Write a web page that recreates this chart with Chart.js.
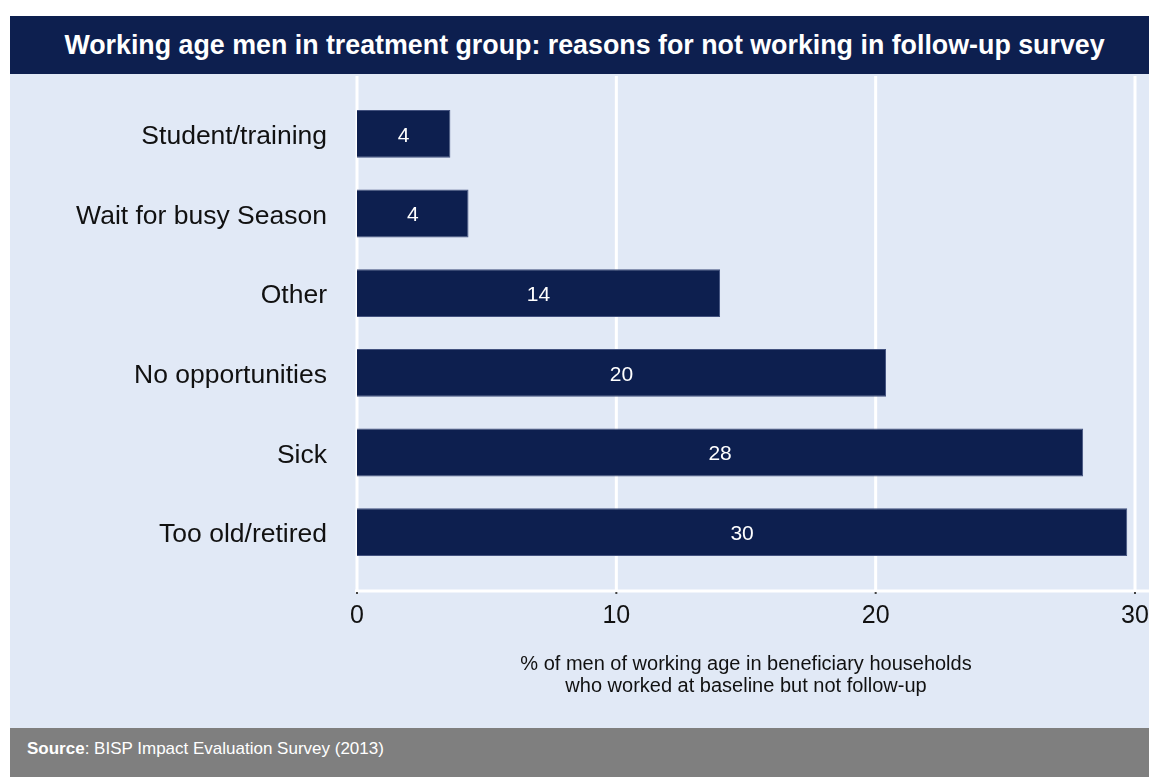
<!DOCTYPE html>
<html>
<head>
<meta charset="utf-8">
<script src="https://cdn.jsdelivr.net/npm/chart.js@4/dist/chart.umd.min.js"></script>
<style>
  body { margin: 0; background: #fff; font-family: "Liberation Sans", Arial, sans-serif; }
  #frame { position: absolute; left: 10px; top: 16px; width: 1139px; height: 761px; }
  #titleBar { height: 58px; background: #0d1f4f; color: #fff; font-weight: bold; font-size: 26.8px;
              display: flex; align-items: center; justify-content: center; padding-left: 10px; box-sizing: border-box; }
  #panel { position: relative; height: 654px; background: #e1e9f6; }
  #sourceBar { height: 49px; background: #7f7f7f; color: #fff; font-size: 17px; line-height: 41px; padding-left: 17px; }
</style>
</head>
<body>
<div id="frame">
  <div id="titleBar">Working age men in treatment group: reasons for not working in follow-up survey</div>
  <div id="panel"><canvas id="reasonsChart" width="1139" height="654"></canvas></div>
  <div id="sourceBar"><b>Source</b>: BISP Impact Evaluation Survey (2013)</div>
</div>
<script>
// Reasons for not working, % of working-age men (baseline workers)
const reasons = ["Student/training", "Wait for busy Season", "Other", "No opportunities", "Sick", "Too old/retired"];
const shares = [3.6, 4.3, 14.0, 20.4, 28.0, 29.7];
const xTicks = [0, 10, 20, 30];
const xTitle = ["% of men of working age in beneficiary households", "who worked at baseline but not follow-up"];

const navy = "#0d1f4f";

// white vertical gridlines and baseline, running past the bar area like the panel does
const panelGrid = {
  id: 'panelGrid',
  beforeDatasetsDraw(chart) {
    const { ctx, chartArea, scales: { x } } = chart;
    const top = chartArea.top - 18;
    const bottom = chartArea.bottom + 19;
    ctx.save();
    ctx.strokeStyle = "#ffffff";
    ctx.lineWidth = 3;
    xTicks.forEach(v => {
      const px = x.getPixelForValue(v);
      ctx.beginPath();
      ctx.moveTo(px, top);
      ctx.lineTo(px, bottom);
      ctx.stroke();
    });
    ctx.beginPath();
    ctx.moveTo(x.getPixelForValue(0) - 2, bottom);
    ctx.lineTo(chart.width, bottom);
    ctx.stroke();
    // tiny tick marks under each gridline
    ctx.fillStyle = "#444";
    xTicks.forEach(v => {
      const px = x.getPixelForValue(v);
      ctx.fillRect(px - 1, bottom + 1, 2, 2);
    });
    ctx.restore();
  }
};

// rounded value printed in the middle of each bar
const barValues = {
  id: 'barValues',
  afterDatasetsDraw(chart) {
    const { ctx } = chart;
    const meta = chart.getDatasetMeta(0);
    ctx.save();
    ctx.fillStyle = "#ffffff";
    ctx.font = '21px "Liberation Sans", Arial, sans-serif';
    ctx.textAlign = 'center';
    ctx.textBaseline = 'middle';
    meta.data.forEach((bar, i) => {
      ctx.fillText(Math.round(shares[i]), (bar.x + bar.base) / 2, bar.y + 2);
    });
    ctx.restore();
  }
};

new Chart(document.getElementById('reasonsChart').getContext('2d'), {
  type: 'bar',
  data: {
    labels: reasons,
    datasets: [{
      data: shares,
      backgroundColor: navy,
      borderColor: "#43527f",
      borderWidth: 1,
      categoryPercentage: 1,
      barPercentage: 0.6
    }]
  },
  options: {
    indexAxis: 'y',
    responsive: false,
    animation: false,
    layout: { padding: { top: 20, right: 14, left: 0, bottom: 0 } },
    plugins: { legend: { display: false }, tooltip: { enabled: false } },
    scales: {
      x: {
        min: 0,
        max: 30,
        afterFit(scale) {
          scale.height = 156;
          scale.paddingLeft = 0;
          scale.paddingRight = 0;
        },
        afterBuildTicks(scale) { scale.ticks = xTicks.map(v => ({ value: v })); },
        grid: { display: false, drawTicks: false },
        border: { display: false },
        ticks: {
          padding: 32,
          color: "#111",
          font: { family: '"Liberation Sans", Arial, sans-serif', size: 25, lineHeight: 1 }
        },
        title: {
          display: true,
          text: xTitle,
          color: "#111",
          padding: { top: 0, bottom: 31 },
          font: { family: '"Liberation Sans", Arial, sans-serif', size: 20, lineHeight: 1.1 }
        }
      },
      y: {
        afterFit(scale) {
          scale.width = 347;
          scale.paddingTop = 0;
          scale.paddingBottom = 0;
        },
        grid: { display: false, drawTicks: false },
        border: { display: false },
        ticks: {
          padding: 30,
          labelOffset: 3,
          color: "#111",
          font: { family: '"Liberation Sans", Arial, sans-serif', size: 26.5 }
        }
      }
    }
  },
  plugins: [panelGrid, barValues]
});
</script>
</body>
</html>
